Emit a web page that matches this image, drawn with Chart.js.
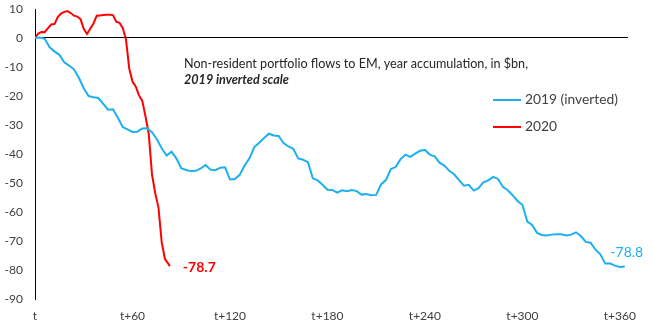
<!DOCTYPE html>
<html>
<head>
<meta charset="utf-8">
<script src="https://cdn.jsdelivr.net/npm/chart.js@4.4.1/dist/chart.umd.min.js"></script>
<style>
html, body { margin: 0; padding: 0; background: #fff; }
</style>
</head>
<body>
<canvas id="flows-chart" width="653" height="332"></canvas>
<script>
// 2020: one value every 2 days (last point is day 83)
var step2020 = 2;
var flows2020 = [
    0, 1.5, 2.1, 2.0, 3.4, 4.7, 4.8, 7.2, 8.4, 9.0,
    9.3, 8.6, 7.7, 7.4, 6.5, 3.2, 1.4, 3.2, 5.0, 7.7,
    7.8, 7.9, 8.0, 8.0, 7.9, 5.6, 5.2, 3.5, -0.5, -10.5,
    -15.0, -16.7, -19.8, -21.6, -27.0, -33.0, -47.0, -53.5, -58.5, -70.5,
    -76.2, -77.8
];
var lastDay2020 = 83;
var last2020 = -78.7;

// 2019 (inverted): one value every 3 days
var step2019 = 3;
var flows2019 = [
    0, 0.2, -0.3, -3.2, -4.6, -5.8, -8.4, -9.5, -10.8, -13.7,
    -17.3, -20.0, -20.4, -20.7, -22.7, -24.7, -24.6, -27.5, -30.7, -31.5,
    -32.4, -32.3, -31.2, -31.1, -32.5, -34.9, -38.0, -40.5, -39.2, -41.5,
    -44.9, -45.5, -45.9, -45.8, -45.0, -43.8, -45.4, -45.6, -44.7, -44.6,
    -48.8, -48.6, -47.2, -44.0, -41.5, -37.6, -36.1, -34.5, -33.0, -33.6,
    -33.8, -36.2, -37.4, -38.2, -41.5, -42.0, -42.8, -48.4, -49.1, -50.6,
    -52.3, -52.4, -53.3, -52.5, -52.8, -52.4, -52.8, -54.0, -53.8, -54.2,
    -54.1, -50.5, -49.0, -45.2, -44.5, -41.8, -40.2, -41.0, -39.9, -38.9,
    -38.6, -40.2, -40.8, -43.0, -44.0, -45.8, -47.0, -49.0, -50.9, -50.6,
    -52.6, -51.8, -49.8, -49.1, -47.9, -48.6, -51.3, -52.5, -54.2, -56.2,
    -57.5, -63.3, -64.5, -67.2, -67.9, -68.1, -67.8, -67.7, -67.7, -68.1,
    -67.8, -67.0, -68.3, -70.3, -70.6, -73.0, -74.6, -77.8, -77.8, -78.5,
    -79.0, -78.8
];

var seriesNames = ['2019 (inverted)', '2020'];
var seriesColors = ['#1CB0F0', '#FF0000'];
var titleLine1 = 'Non-resident portfolio flows to EM, year accumulation, in $bn,';
var titleLine2 = '2019 inverted scale';
var xTickValues = [0, 60, 120, 180, 240, 300, 360];
var yMin = -90, yMax = 10, yStep = 10;
var xMax = 365;

function toPoints(values, step) {
    return values.map(function (v, i) {
        return { x: i * step, y: v };
    });
}

var points2020 = toPoints(flows2020, step2020);
points2020.push({ x: lastDay2020, y: last2020 });
var points2019 = toPoints(flows2019, step2019);

var notesPlugin = {
    id: 'notes',
    afterDatasetsDraw: function (chart) {
        var ctx = chart.ctx;
        var xs = chart.scales.x, ys = chart.scales.y;
        ctx.save();
        ctx.textBaseline = 'middle';
        ctx.textAlign = 'left';

        // title inside the plot
        ctx.fillStyle = '#262626';
        ctx.font = '12.6px Lato';
        ctx.fillText(titleLine1, 184, 64);
        ctx.font = 'italic bold 12.6px Lato';
        ctx.fillText(titleLine2, 184, 80);

        // legend
        ctx.font = '13.8px Lato';
        ctx.lineWidth = 2;
        [100, 127].forEach(function (y, i) {
            ctx.strokeStyle = seriesColors[i];
            ctx.beginPath();
            ctx.moveTo(493, y);
            ctx.lineTo(521, y);
            ctx.stroke();
            ctx.fillStyle = '#404040';
            ctx.fillText(seriesNames[i], 525, y);
        });

        // end labels
        var last19 = points2019[points2019.length - 1];
        ctx.font = '14px Lato';
        ctx.fillStyle = seriesColors[0];
        ctx.textAlign = 'center';
        ctx.fillText(last19.y.toFixed(1), xs.getPixelForValue(last19.x) + 2, ys.getPixelForValue(last19.y) - 14);

        ctx.font = 'bold 14px Lato';
        ctx.fillStyle = seriesColors[1];
        ctx.textAlign = 'left';
        ctx.fillText(last2020.toFixed(1), xs.getPixelForValue(lastDay2020) + 13, ys.getPixelForValue(last2020) + 1);
        ctx.restore();
    }
};

new Chart(document.getElementById('flows-chart'), {
    type: 'line',
    data: {
        datasets: [
            {
                label: seriesNames[0],
                data: points2019,
                borderColor: seriesColors[0],
                borderWidth: 2,
                pointRadius: 0,
                fill: false,
                tension: 0
            },
            {
                label: seriesNames[1],
                data: points2020,
                borderColor: seriesColors[1],
                borderWidth: 2,
                pointRadius: 0,
                fill: false,
                tension: 0
            }
        ]
    },
    options: {
        responsive: false,
        animation: false,
        layout: { padding: { top: 9, right: 25, left: 0, bottom: 0 } },
        plugins: {
            legend: { display: false },
            tooltip: { enabled: false }
        },
        scales: {
            x: {
                type: 'linear',
                min: 0,
                max: xMax,
                grid: { display: false, drawTicks: false },
                border: { display: false },
                afterFit: function (scale) {
                    scale.height = 33;
                    scale.paddingLeft = 0;
                    scale.paddingRight = 0;
                },
                afterBuildTicks: function (scale) {
                    scale.ticks = xTickValues.map(function (v) { return { value: v }; });
                },
                ticks: {
                    padding: 10,
                    color: '#404040',
                    font: { family: 'Lato', size: 12 },
                    maxRotation: 0,
                    autoSkip: false,
                    callback: function (value) {
                        return value === 0 ? 't' : 't+' + value;
                    }
                }
            },
            y: {
                min: yMin,
                max: yMax,
                afterFit: function (scale) {
                    scale.width = 35;
                    scale.paddingTop = 0;
                    scale.paddingBottom = 0;
                },
                grid: {
                    drawTicks: false,
                    color: function (c) { return c.tick && c.tick.value === 0 ? '#000000' : 'rgba(0,0,0,0)'; },
                    lineWidth: 1
                },
                border: { display: true, color: '#000000', width: 1 },
                ticks: {
                    stepSize: yStep,
                    padding: 12,
                    color: '#404040',
                    font: { family: 'Lato', size: 12 }
                }
            }
        }
    },
    plugins: [notesPlugin]
});
</script>
</body>
</html>
